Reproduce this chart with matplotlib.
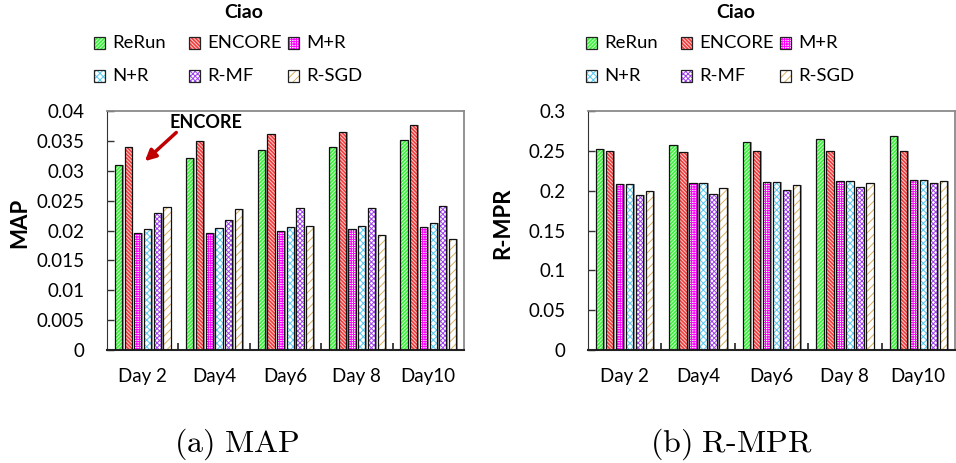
import matplotlib
matplotlib.use("Agg")
import matplotlib.pyplot as plt
import numpy as np
from matplotlib.patches import Rectangle

plt.rcParams['font.family'] = ['Lato', 'DejaVu Sans']
plt.rcParams['hatch.linewidth'] = 0.7
plt.rcParams['mathtext.fontset'] = 'cm'

days = ["Day 2", "Day4", "Day6", "Day 8", "Day10"]
methods = ["ReRun", "ENCORE", "M+R", "N+R", "R-MF", "R-SGD"]

map_rerun = [0.0309, 0.0321, 0.0334, 0.0340, 0.0352]
map_encore = [0.0339, 0.0349, 0.0361, 0.0365, 0.0376]
map_mr = [0.0195, 0.0196, 0.0199, 0.0202, 0.0206]
map_nr = [0.0203, 0.0204, 0.0206, 0.0208, 0.0213]
map_rmf = [0.0230, 0.0218, 0.0237, 0.0237, 0.0241]
map_rsgd = [0.0240, 0.0236, 0.0208, 0.0193, 0.0185]

mpr_rerun = [0.2526, 0.2577, 0.2614, 0.2652, 0.2681]
mpr_encore = [0.2501, 0.2488, 0.2501, 0.2501, 0.2501]
mpr_mr = [0.2081, 0.2098, 0.2111, 0.2123, 0.2140]
mpr_nr = [0.2081, 0.2094, 0.2106, 0.2123, 0.2136]
mpr_rmf = [0.1943, 0.1955, 0.2014, 0.2048, 0.2094]
mpr_rsgd = [0.2001, 0.2035, 0.2073, 0.2098, 0.2127]

map_ticks = [0, 0.005, 0.01, 0.015, 0.02, 0.025, 0.03, 0.035, 0.04]
mpr_ticks = [0, 0.05, 0.1, 0.15, 0.2, 0.25, 0.3]

# styles: (facecolor, hatchcolor, hatch)
styles = [
    ("#3CF03C", "#C8FFC8", "/" * 9),
    ("#F23C3C", "#FFD0D0", "\\" * 9),
    ("white", "#FF00FF", "+" * 7),
    ("white", "#55C8F0", "x" * 5),
    ("white", "#A040F0", "x" * 7),
    ("white", "#D8B060", "/" * 4),
]

fig = plt.figure(figsize=(9.56, 4.63), dpi=100)
W, H = 956.0, 463.0

def draw(axrect, series, ticks, ymax):
    ax = fig.add_axes(axrect)
    x = np.arange(len(days))
    n = len(series)
    step = 0.136
    width = 0.10
    for i, vals in enumerate(series):
        off = (i - (n - 1) / 2) * step
        fc, hc, h = styles[i]
        ax.bar(x + off + 0.025, vals, width, color="#999999", linewidth=0, zorder=1)
        ax.bar(x + off, vals, width, color=fc, edgecolor=hc, hatch=h, linewidth=0, zorder=2)
        ax.bar(x + off, vals, width, fill=False, edgecolor="#111111", linewidth=0.9, zorder=3)
    ax.set_xlim(-0.5, len(days) - 0.5)
    ax.set_ylim(0, ymax)
    ax.set_yticks(ticks)
    ax.set_yticklabels(["%g" % t for t in ticks])
    ax.set_xticks(x)
    ax.set_xticklabels(days)
    ax.set_xticks(x[:-1] + 0.5, minor=True)
    ax.tick_params(axis='x', which='major', length=0, pad=13, labelsize=13.5)
    ax.tick_params(axis='x', which='minor', direction='in', length=5, width=1.2, color='#222222')
    ax.tick_params(axis='y', direction='in', length=5, width=1, pad=16, labelsize=13.5, color='#333333')
    ax.spines['left'].set_color('#333333')
    ax.spines['bottom'].set_color('#222222')
    ax.spines['bottom'].set_linewidth(1.5)
    ax.spines['top'].set_color('#8a8a8a')
    ax.spines['right'].set_color('#8a8a8a')
    ax.spines['top'].set_linewidth(1.3)
    ax.spines['right'].set_linewidth(1.3)
    return ax

axL = draw([107 / W, 113 / H, 357 / W, 239 / H],
           [map_rerun, map_encore, map_mr, map_nr, map_rmf, map_rsgd],
           map_ticks, 0.04)
axR = draw([588 / W, 113 / H, 367 / W, 239 / H],
           [mpr_rerun, mpr_encore, mpr_mr, mpr_nr, mpr_rmf, mpr_rsgd],
           mpr_ticks, 0.3)

fig.text(20 / W, 1 - 223 / H, "MAP", rotation=90, ha='center', va='center',
         fontsize=16, fontweight='bold')
fig.text(503 / W, 1 - 223 / H, "R-MPR", rotation=90, ha='center', va='center',
         fontsize=16, fontweight='bold')

def legend(x0, title_x):
    fig.text(title_x / W, 1 - 13 / H, "Ciao", ha='center', va='center',
             fontsize=14, fontweight='bold')
    colx = [0, 95, 194]
    rows = [43, 76]
    for i, m in enumerate(methods):
        r, c = divmod(i, 3)
        px = x0 + colx[c]
        py = rows[r]
        fc, hc, h = styles[i]
        rect = Rectangle((px / W, 1 - (py + 5.5) / H), 11 / W, 11 / H,
                         transform=fig.transFigure, facecolor=fc, edgecolor=hc,
                         hatch=h, linewidth=0)
        fig.patches.append(rect)
        rect2 = Rectangle((px / W, 1 - (py + 5.5) / H), 11 / W, 11 / H,
                          transform=fig.transFigure, fill=False,
                          edgecolor="#222222", linewidth=0.9)
        fig.patches.append(rect2)
        fig.text((px + 18) / W, 1 - py / H, m, ha='left', va='center', fontsize=13.3)

legend(94, 244)
legend(586, 736)

axL.annotate("ENCORE", xy=(0.886, 0.0380), ha='center', va='center',
             fontsize=13, fontweight='bold')
axL.annotate("", xy=(0.03, 0.0316), xytext=(0.47, 0.0364),
             arrowprops=dict(arrowstyle='-|>', color='#C00000', lw=2.5,
                             mutation_scale=16, shrinkA=0, shrinkB=0))

fig.text(237 / W, 1 - 444 / H, r"$\mathrm{(a)\ MAP}$", ha='center', va='center', fontsize=23)
fig.text(731 / W, 1 - 444 / H, r"$\mathrm{(b)\ R\text{-}MPR}$", ha='center', va='center', fontsize=23)

fig.savefig("out.png", dpi=100)
